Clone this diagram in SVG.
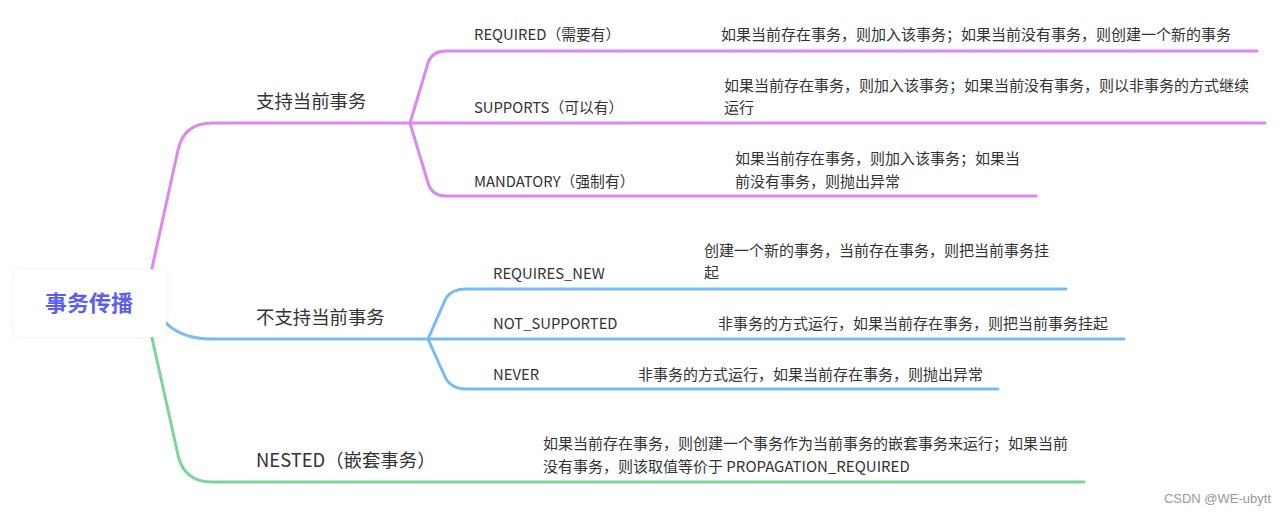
<svg xmlns="http://www.w3.org/2000/svg" width="1287" height="517" viewBox="0 0 1287 517">
<defs>
<filter id="sh" x="-20%" y="-30%" width="140%" height="160%">
<feDropShadow dx="0" dy="0" stdDeviation="3" flood-color="#000" flood-opacity="0.06"/>
</filter>
<style>
.p{stroke:#dc88f0;}
.b{stroke:#76bbf6;}
.g{stroke:#7ad49b;}
.ln{fill:none;stroke-width:3;stroke-linecap:round;stroke-linejoin:round;}
.t{font-family:"Noto Sans CJK SC","Noto Sans",sans-serif;fill:#333;}
.h{font-size:18.4px;}
.s{font-size:14.8px;}
.d{font-size:15px;}
.root{font-family:"Noto Sans CJK SC",sans-serif;font-size:22px;font-weight:bold;fill:#5b5ef2;}
</style>
</defs>
<rect width="1287" height="517" fill="#fff"/>
<g id="connectors">
<path class="ln p" d="M152,268 L178,150 Q184,123 212,123 L410,123 L1265,123"/>
<path class="ln p" d="M410,123 L428,63 Q432,51 446,51 L1257,51"/>
<path class="ln p" d="M410,123 L428,183 Q432,196 446,196 L1036,196"/>
<path class="ln b" d="M166,323 Q182,339 212,339 L1124,339"/>
<path class="ln b" d="M428,339 L446,298 Q452,289 466,289 L1066,289"/>
<path class="ln b" d="M428,339 L446,379 Q452,389 466,389 L998,389"/>
<path class="ln g" d="M152,338 L178,455 Q184,482 212,482 L1084,482"/>
</g>
<g id="root">
<rect x="14" y="270" width="152" height="67" rx="6" fill="#fff" filter="url(#sh)"/>
<text class="root" x="89" y="311" text-anchor="middle">事务传播</text>
</g>
<g id="support">
<text class="t h" x="256" y="108">支持当前事务</text>
</g>
<g id="required">
<text class="t s" x="474" y="40">REQUIRED（需要有）</text>
<text class="t d" x="721" y="40">如果当前存在事务，则加入该事务；如果当前没有事务，则创建一个新的事务</text>
</g>
<g id="supports">
<text class="t s" x="474" y="113">SUPPORTS（可以有）</text>
<text class="t d" x="724" y="91">如果当前存在事务，则加入该事务；如果当前没有事务，则以非事务的方式继续</text>
<text class="t d" x="724" y="113">运行</text>
</g>
<g id="mandatory">
<text class="t s" x="474" y="187">MANDATORY（强制有）</text>
<text class="t d" x="735" y="164">如果当前存在事务，则加入该事务；如果当</text>
<text class="t d" x="735" y="187">前没有事务，则抛出异常</text>
</g>
<g id="nosupport">
<text class="t h" x="256" y="324">不支持当前事务</text>
</g>
<g id="requires_new">
<text class="t s" x="493" y="279">REQUIRES_NEW</text>
<text class="t d" x="704" y="256">创建一个新的事务，当前存在事务，则把当前事务挂</text>
<text class="t d" x="704" y="278">起</text>
</g>
<g id="not_supported">
<text class="t s" x="493" y="329">NOT_SUPPORTED</text>
<text class="t d" x="718" y="329">非事务的方式运行，如果当前存在事务，则把当前事务挂起</text>
</g>
<g id="never">
<text class="t s" x="493" y="380">NEVER</text>
<text class="t d" x="638" y="380">非事务的方式运行，如果当前存在事务，则抛出异常</text>
</g>
<g id="nested">
<text class="t h" x="256" y="467">NESTED（嵌套事务）</text>
<text class="t d" x="543" y="449">如果当前存在事务，则创建一个事务作为当前事务的嵌套事务来运行；如果当前</text>
<text class="t d" x="543" y="472">没有事务，则该取值等价于 PROPAGATION_REQUIRED</text>
</g>
<text x="1271" y="503" text-anchor="end" font-family="Liberation Sans,sans-serif" font-size="13" fill="#999">CSDN @WE-ubytt</text>
</svg>
